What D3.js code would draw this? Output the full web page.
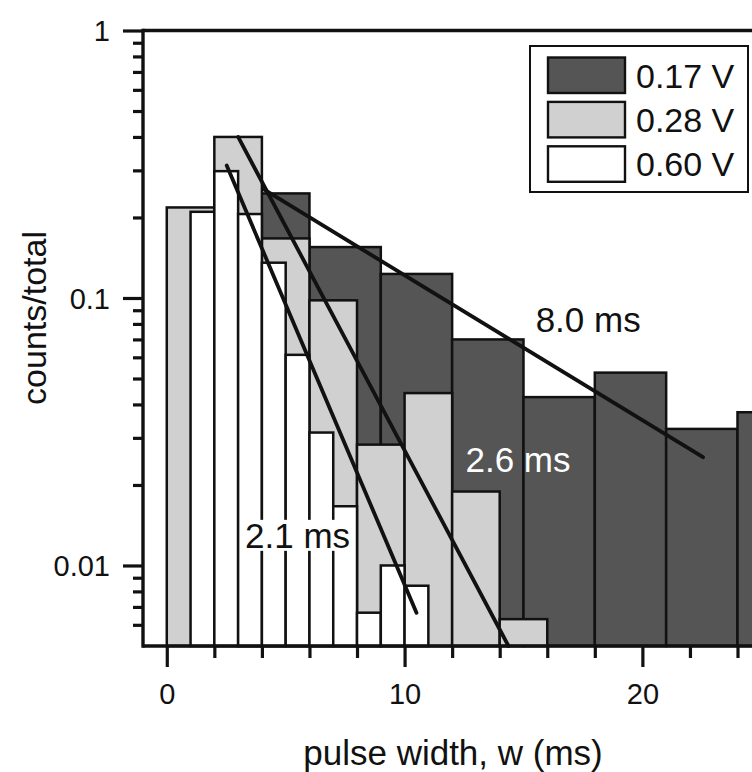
<!DOCTYPE html>
<html><head><meta charset="utf-8">
<script src="https://cdn.jsdelivr.net/npm/d3@7"></script>
<style>
body{margin:0;background:#fff}
text{font-family:"Liberation Sans",Arial,Helvetica,sans-serif;fill:#111}
</style>
</head><body>
<svg id="chart" width="752" height="772"></svg>
<script>
// ---------------- data ----------------
const seriesNames = ["0.17 V", "0.28 V", "0.60 V"];
const binStarts = [3, 0, 1];        // first bin edge (ms)
const binWidths = [3, 2, 1];        // bin width (ms)
const values017 = [0.246, 0.155, 0.123, 0.070, 0.0426, 0.0526, 0.0324, 0.0374];
const values028 = [0.218, 0.40, 0.167, 0.098, 0.0283, 0.0441, 0.0189, 0.0063];
const values060 = [0.21, 0.298, 0.206, 0.1355, 0.0613, 0.0314, 0.01665, 0.00666, 0.0100, 0.0084];
const fitLabels = ["8.0 ms", "2.6 ms", "2.1 ms"];
const fitStartX = [4.1, 3.0, 2.52];
const fitStartY = [0.254, 0.40, 0.313];
const fitEndX = [22.55, 14.37, 10.5];
const fitEndY = [0.0254, 0.005, 0.00666];
const xTickValues = [0, 2, 4, 6, 8, 10, 12, 14, 16, 18, 20, 22, 24];
const xTickLabels = ["0", "10", "20"];
const yTickLabels = ["1", "0.1", "0.01"];

// ---------------- layout ----------------
const svg = d3.select("#chart");
const colors = ["#555555", "#d0d0d0", "#ffffff"];
const x = d3.scaleLinear().domain([-1, 26]).range([143, 143 + 27 * 23.78]);
const y = d3.scaleLog().domain([0.005, 1]).range([646, 30.5]);
const bottom = y(0.005);

const g = svg.append("g");

// bars
const allValues = [values017, values028, values060];
allValues.forEach((vals, si) => {
  const bins = vals.map((v, i) => ({x0: binStarts[si] + i * binWidths[si], x1: binStarts[si] + (i + 1) * binWidths[si], v}));
  g.append("g").selectAll("rect").data(bins).join("rect")
    .attr("x", d => x(d.x0))
    .attr("width", d => x(d.x1) - x(d.x0))
    .attr("y", d => y(d.v))
    .attr("height", d => bottom - y(d.v))
    .attr("fill", colors[si])
    .attr("stroke", "#111")
    .attr("stroke-width", 2.5);
});

// fit lines
fitLabels.forEach((lab, i) => {
  g.append("line")
    .attr("x1", x(fitStartX[i])).attr("y1", y(fitStartY[i]))
    .attr("x2", x(fitEndX[i])).attr("y2", y(fitEndY[i]))
    .attr("stroke", "#111").attr("stroke-width", 3.8).attr("stroke-linecap", "round");
});

// annotations
const annX = [17.72, 14.77, 5.5];
const annY = [0.0743, 0.0223, 0.01164];
const annFill = ["#111", "#ffffff", "#111"];
fitLabels.forEach((lab, i) => {
  const t = g.append("text")
    .attr("x", x(annX[i])).attr("y", y(annY[i]))
    .attr("text-anchor", "middle")
    .attr("font-size", 35)
    .style("fill", annFill[i])
    .text(lab);
  if (i === 2) {
    const bb = t.node().getBBox();
    g.insert("rect", () => t.node())
      .attr("x", bb.x - 2).attr("y", bb.y + 4)
      .attr("width", bb.width + 4).attr("height", bb.height - 8)
      .attr("fill", "#fff");
  }
});

// axes
const ax = svg.append("g");
ax.append("line").attr("x1", 143).attr("x2", 800).attr("y1", bottom).attr("y2", bottom)
  .attr("stroke", "#111").attr("stroke-width", 3.4);
ax.append("line").attr("x1", 143).attr("x2", 800).attr("y1", y(1)).attr("y2", y(1))
  .attr("stroke", "#111").attr("stroke-width", 3.4);
ax.append("line").attr("x1", 143).attr("x2", 143).attr("y1", y(1) - 1.7).attr("y2", bottom + 1.7)
  .attr("stroke", "#111").attr("stroke-width", 3.4);

// x ticks
const majorX = xTickLabels.map(Number);
const xAxis = d3.axisBottom(x).tickValues(xTickValues).tickSize(0).tickFormat("");
const xg = ax.append("g").attr("transform", `translate(0,${bottom})`).call(xAxis);
xg.select(".domain").remove();
xg.selectAll(".tick line").remove();
xg.selectAll(".tick").append("line")
  .attr("y1", 0)
  .attr("y2", d => majorX.includes(d) ? 21 : 12)
  .attr("stroke", "#111").attr("stroke-width", 3.2);
xg.selectAll(".tick").filter(d => majorX.includes(d)).select("text").remove();
xg.selectAll(".tick").filter(d => majorX.includes(d)).append("text")
  .attr("y", 58).attr("text-anchor", "middle").attr("font-size", 29)
  .style("fill", "#111")
  .text(d => xTickLabels[majorX.indexOf(d)]);

// y ticks
const majorY = yTickLabels.map(Number);
const minorY = [];
[0.001, 0.01, 0.1].forEach(dec => { for (let k = 2; k <= 9; k++) { const v = +(dec * k).toPrecision(3); if (v > 0.005 && v < 1) minorY.push(v); } });
const yAxis = d3.axisLeft(y).tickValues(majorY.concat(minorY)).tickSize(0).tickFormat("");
const yg = ax.append("g").attr("transform", "translate(143,0)").call(yAxis);
yg.select(".domain").remove();
yg.selectAll(".tick line").remove();
yg.selectAll(".tick").append("line")
  .attr("x1", 0)
  .attr("x2", d => majorY.includes(d) ? -20 : -10)
  .attr("stroke", "#111").attr("stroke-width", 3.2);
yg.selectAll(".tick").filter(d => majorY.includes(d)).append("text")
  .attr("x", -33).attr("dy", "0.35em").attr("text-anchor", "end").attr("font-size", 29)
  .style("fill", "#111")
  .text(d => yTickLabels[majorY.indexOf(d)]);

// axis titles
svg.append("text")
  .attr("x", 453).attr("y", 765).attr("text-anchor", "middle")
  .attr("font-size", 35).text("pulse width, w (ms)");
svg.append("text")
  .attr("transform", "translate(46,318) rotate(-90)")
  .attr("text-anchor", "middle").attr("font-size", 34).text("counts/total");

// legend
const lg = svg.append("g");
lg.append("rect").attr("x", 530).attr("y", 46).attr("width", 218).attr("height", 146)
  .attr("fill", "#fff").attr("stroke", "#111").attr("stroke-width", 2);
seriesNames.forEach((nm, i) => {
  const yy = 57.5 + i * 44.4;
  lg.append("rect").attr("x", 548).attr("y", yy).attr("width", 77).attr("height", 35.5)
    .attr("fill", colors[i]).attr("stroke", "#111").attr("stroke-width", 2.4);
  lg.append("text").attr("x", 636).attr("y", yy + 30).attr("font-size", 34).text(nm);
});
</script>
</body></html>
